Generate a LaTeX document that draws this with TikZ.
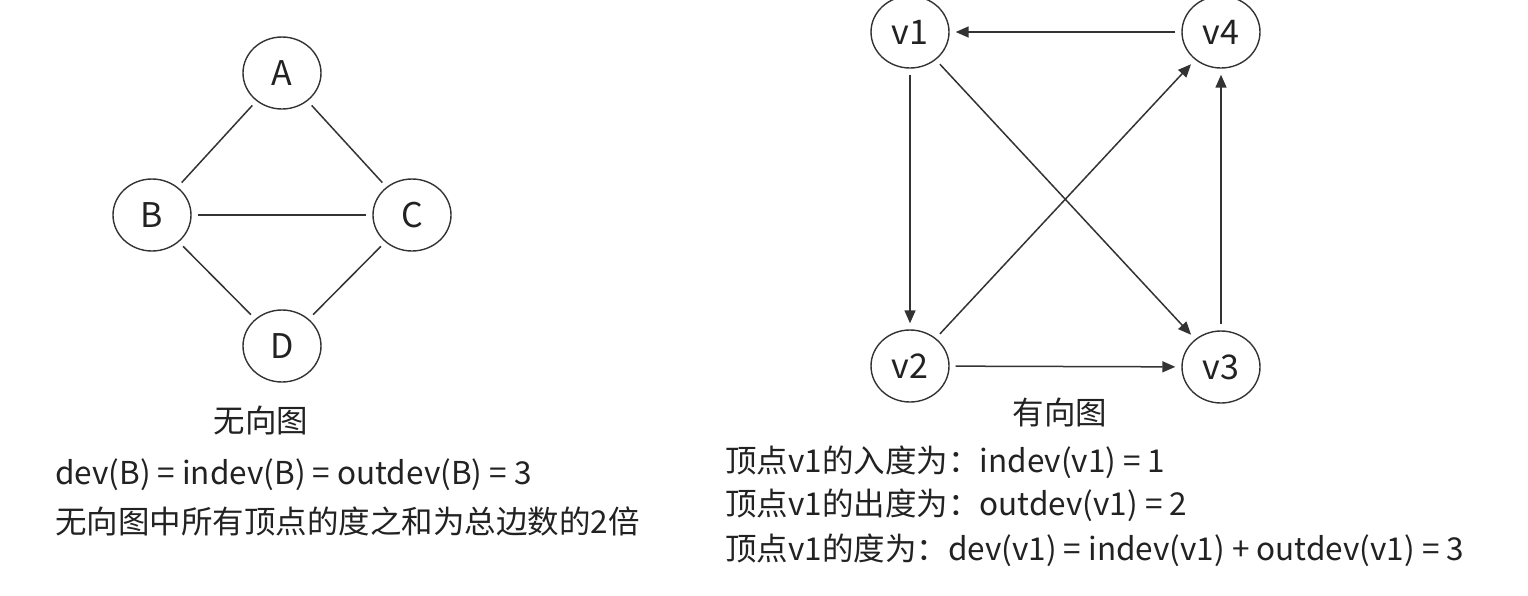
\documentclass[tikz,border=0pt]{standalone}
\usepackage{fontspec}
\setmainfont{Noto Sans CJK SC}
\usetikzlibrary{shapes.geometric,arrows.meta}
\definecolor{ln}{HTML}{333333}
\definecolor{tx}{HTML}{222222}
\begin{document}
\begin{tikzpicture}[x=1pt,y=-1pt,
  vert/.style={draw=ln,line width=1.4pt,ellipse,minimum width=78pt,minimum height=72pt,inner sep=0pt,text=tx,font=\fontsize{34}{40}\selectfont},
  uedge/.style={draw=ln,line width=1.5pt,shorten <=6pt,shorten >=6pt},
  dedge/.style={draw=ln,line width=1.5pt,shorten <=6pt,shorten >=6pt,-{Triangle[length=13pt,width=11pt]}},
  lbl/.style={text=tx,inner sep=0pt,font=\fontsize{31.5}{36}\selectfont},
  info/.style={text=tx,inner sep=0pt,anchor=west,font=\fontsize{31.5}{36}\selectfont}]
\useasboundingbox (0,0) rectangle (1528,595);
\fill[white] (0,0) rectangle (1528,595);
% undirected
\node[vert] (A) at (282,73) {A};
\node[vert] (B) at (152,215) {B};
\node[vert] (C) at (412,215) {C};
\node[vert] (D) at (282,346) {D};
\draw[uedge] (A) -- (B);
\draw[uedge] (A) -- (C);
\draw[uedge] (B) -- (C);
\draw[uedge] (B) -- (D);
\draw[uedge] (C) -- (D);
% directed
\node[vert] (v1) at (910,32) {v1};
\node[vert] (v4) at (1221,32) {v4};
\node[vert] (v2) at (910,366) {v2};
\node[vert] (v3) at (1221,367) {v3};
\draw[dedge] (v4) -- (v1);
\draw[dedge] (v1) -- (v2);
\draw[dedge] (v2) -- (v3);
\draw[dedge] (v3) -- (v4);
\draw[dedge] (v1) -- (v3);
\draw[dedge] (v2) -- (v4);
% texts
\node[lbl] (t1) at (261,420) {无向图};
\node[info] (t2) at (55,475) {dev(B) = indev(B) = outdev(B) = 3};
\node[info] (t3) at (55,521) {无向图中所有顶点的度之和为总边数的2倍};
\node[lbl] (t4) at (1060,412) {有向图};
\node[info] (t5) at (725,462) {顶点v1的入度为：indev(v1) = 1};
\node[info] (t6) at (725,505) {顶点v1的出度为：outdev(v1) = 2};
\node[info] (t7) at (725,550) {顶点v1的度为：dev(v1) = indev(v1) + outdev(v1) = 3};
\end{tikzpicture}
\end{document}
